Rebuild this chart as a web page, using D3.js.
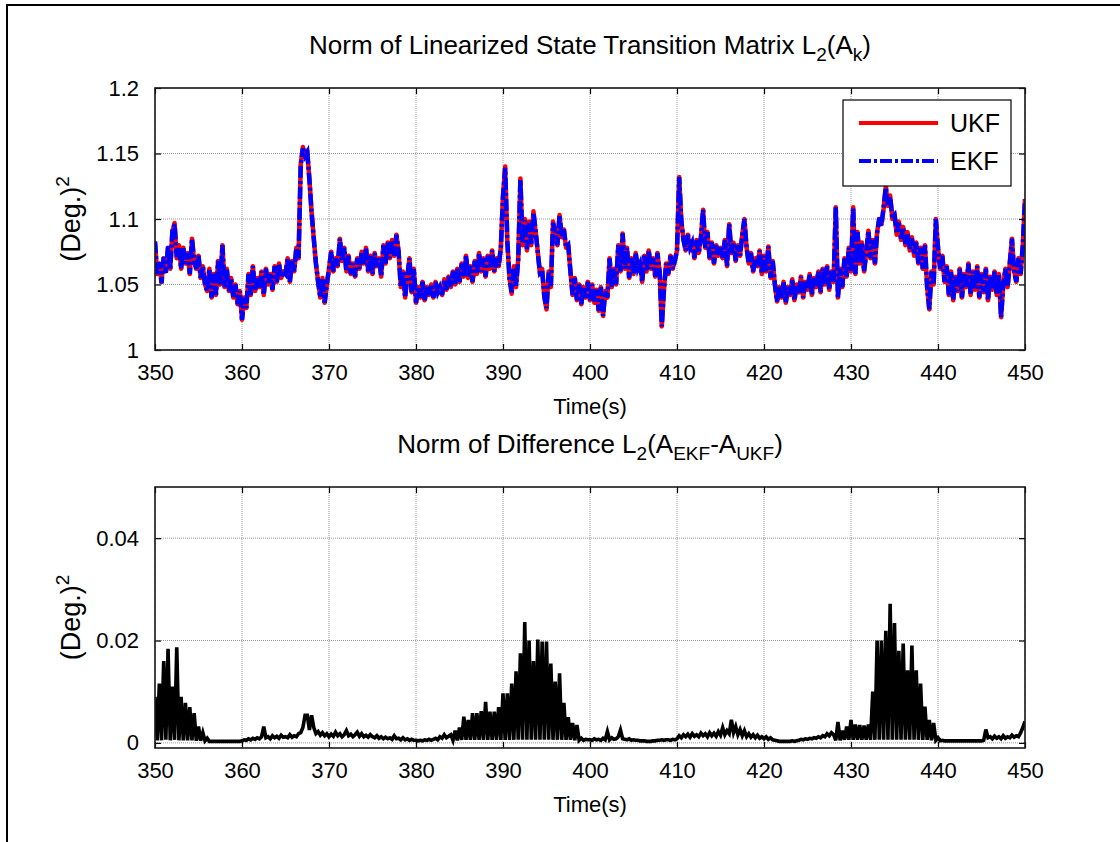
<!DOCTYPE html>
<html>
<head>
<meta charset="utf-8">
<script src="https://cdn.jsdelivr.net/npm/d3@7/dist/d3.min.js"></script>
<style>
body { margin: 0; background: #fff; }
text { font-family: "Liberation Sans", Arial, sans-serif; fill: #000; }
</style>
</head>
<body>
<div id="chart"></div>
<script>

// sampling of the recorded series
var t0 = 350, dt = 0.25;

var xTicks = [350, 360, 370, 380, 390, 400, 410, 420, 430, 440, 450];
var topTicks = [1, 1.05, 1.1, 1.15, 1.2];
var bottomTicks = [0, 0.02, 0.04];
var seriesNames = ["UKF", "EKF"];
var seriesColors = ["#ff0000", "#0000ff"];

// L2 norm of A_k, UKF (one row = one second)
var ukfNorm = [
 1.082, 1.058, 1.066, 1.052,
 1.070, 1.060, 1.078, 1.062,
 1.090, 1.097, 1.070, 1.080,
 1.062, 1.078, 1.066, 1.074,
 1.058, 1.085, 1.068, 1.062,
 1.072, 1.055, 1.064, 1.050,
 1.045, 1.062, 1.040, 1.058,
 1.042, 1.068, 1.050, 1.080,
 1.048, 1.062, 1.045, 1.055,
 1.040, 1.050, 1.035, 1.045,
 1.023, 1.040, 1.032, 1.058,
 1.042, 1.064, 1.045, 1.055,
 1.048, 1.060, 1.042, 1.062,
 1.050, 1.058, 1.046, 1.064,
 1.052, 1.066, 1.055, 1.060,
 1.058, 1.070, 1.052, 1.068,
 1.060, 1.078, 1.070, 1.142,
 1.155, 1.148, 1.152, 1.130,
 1.105, 1.085, 1.066, 1.052,
 1.040, 1.055, 1.036, 1.050,
 1.062, 1.075, 1.060, 1.070,
 1.064, 1.085, 1.068, 1.078,
 1.060, 1.072, 1.058, 1.066,
 1.056, 1.070, 1.062, 1.075,
 1.066, 1.078, 1.060, 1.072,
 1.058, 1.074, 1.064, 1.070,
 1.056, 1.080, 1.066, 1.082,
 1.070, 1.084, 1.072, 1.088,
 1.075, 1.048, 1.060, 1.040,
 1.056, 1.070, 1.044, 1.062,
 1.036, 1.048, 1.040, 1.052,
 1.038, 1.048, 1.042, 1.050,
 1.040, 1.052, 1.044, 1.048,
 1.042, 1.054, 1.046, 1.056,
 1.048, 1.060, 1.050, 1.062,
 1.052, 1.066, 1.056, 1.072,
 1.055, 1.064, 1.052, 1.068,
 1.058, 1.074, 1.060, 1.070,
 1.056, 1.072, 1.062, 1.076,
 1.060, 1.070, 1.064, 1.078,
 1.118, 1.140, 1.082, 1.055,
 1.043, 1.064, 1.048, 1.070,
 1.131, 1.080, 1.100, 1.076,
 1.098, 1.080, 1.106, 1.090,
 1.075, 1.058, 1.062, 1.040,
 1.031, 1.060, 1.048, 1.098,
 1.090, 1.080, 1.103, 1.086,
 1.092, 1.078, 1.080, 1.060,
 1.042, 1.055, 1.038, 1.050,
 1.035, 1.048, 1.040, 1.052,
 1.038, 1.050, 1.036, 1.046,
 1.030, 1.048, 1.026, 1.045,
 1.040, 1.070, 1.048, 1.062,
 1.050, 1.080, 1.060, 1.089,
 1.062, 1.078, 1.055, 1.070,
 1.058, 1.074, 1.062, 1.066,
 1.052, 1.072, 1.060, 1.076,
 1.062, 1.070, 1.056, 1.074,
 1.060, 1.018, 1.046, 1.066,
 1.058, 1.072, 1.062, 1.068,
 1.076, 1.132, 1.098, 1.084,
 1.076, 1.088, 1.078, 1.082,
 1.070, 1.084, 1.074, 1.086,
 1.107, 1.078, 1.090, 1.070,
 1.082, 1.066, 1.080, 1.072,
 1.078, 1.070, 1.084, 1.064,
 1.096, 1.074, 1.082, 1.068,
 1.080, 1.072, 1.088, 1.100,
 1.078, 1.066, 1.074, 1.060,
 1.070, 1.064, 1.076, 1.058,
 1.072, 1.060, 1.079, 1.055,
 1.068, 1.050, 1.037, 1.048,
 1.040, 1.052, 1.036, 1.048,
 1.042, 1.054, 1.038, 1.050,
 1.044, 1.056, 1.040, 1.052,
 1.046, 1.058, 1.042, 1.055,
 1.048, 1.060, 1.044, 1.062,
 1.050, 1.064, 1.046, 1.060,
 1.052, 1.109, 1.040, 1.062,
 1.048, 1.070, 1.056, 1.078,
 1.060, 1.109, 1.058, 1.090,
 1.066, 1.082, 1.060, 1.074,
 1.091, 1.070, 1.084, 1.066,
 1.090, 1.100, 1.096, 1.108,
 1.125, 1.110, 1.118, 1.100,
 1.104, 1.088, 1.098, 1.084,
 1.094, 1.080, 1.090, 1.076,
 1.086, 1.072, 1.082, 1.066,
 1.078, 1.062, 1.080, 1.048,
 1.031, 1.060, 1.050, 1.100,
 1.078, 1.062, 1.072, 1.052,
 1.064, 1.042, 1.060, 1.038,
 1.056, 1.045, 1.062, 1.040,
 1.058, 1.048, 1.066, 1.042,
 1.060, 1.046, 1.064, 1.040,
 1.058, 1.044, 1.062, 1.038,
 1.056, 1.046, 1.060, 1.042,
 1.058, 1.025, 1.050, 1.062,
 1.048, 1.066, 1.085, 1.060,
 1.052, 1.070, 1.058, 1.080,
 1.115
];

// L2 norm of A_k, EKF (almost the same as UKF)
var ekfNorm = [
 1.083, 1.057, 1.067, 1.051,
 1.071, 1.059, 1.079, 1.061,
 1.091, 1.096, 1.071, 1.079,
 1.062, 1.078, 1.066, 1.074,
 1.058, 1.085, 1.068, 1.062,
 1.072, 1.055, 1.064, 1.050,
 1.045, 1.062, 1.040, 1.058,
 1.042, 1.068, 1.050, 1.080,
 1.048, 1.062, 1.045, 1.055,
 1.040, 1.050, 1.035, 1.045,
 1.023, 1.040, 1.032, 1.058,
 1.042, 1.064, 1.045, 1.055,
 1.048, 1.060, 1.042, 1.062,
 1.050, 1.058, 1.046, 1.064,
 1.052, 1.066, 1.055, 1.060,
 1.058, 1.070, 1.052, 1.068,
 1.060, 1.078, 1.070, 1.141,
 1.154, 1.148, 1.151, 1.130,
 1.105, 1.085, 1.066, 1.052,
 1.040, 1.055, 1.036, 1.050,
 1.062, 1.075, 1.060, 1.070,
 1.064, 1.085, 1.068, 1.078,
 1.060, 1.072, 1.058, 1.066,
 1.056, 1.070, 1.062, 1.075,
 1.066, 1.078, 1.060, 1.072,
 1.058, 1.074, 1.064, 1.070,
 1.056, 1.080, 1.066, 1.082,
 1.070, 1.084, 1.072, 1.088,
 1.075, 1.048, 1.060, 1.040,
 1.056, 1.070, 1.044, 1.062,
 1.036, 1.048, 1.040, 1.052,
 1.038, 1.048, 1.042, 1.050,
 1.040, 1.052, 1.044, 1.048,
 1.042, 1.054, 1.046, 1.056,
 1.048, 1.060, 1.050, 1.062,
 1.052, 1.066, 1.056, 1.072,
 1.055, 1.064, 1.052, 1.068,
 1.058, 1.074, 1.060, 1.070,
 1.056, 1.072, 1.062, 1.076,
 1.060, 1.070, 1.064, 1.078,
 1.117, 1.139, 1.083, 1.054,
 1.044, 1.063, 1.049, 1.069,
 1.130, 1.081, 1.099, 1.077,
 1.097, 1.081, 1.105, 1.091,
 1.074, 1.059, 1.061, 1.041,
 1.032, 1.059, 1.049, 1.097,
 1.090, 1.080, 1.103, 1.086,
 1.092, 1.078, 1.080, 1.060,
 1.042, 1.055, 1.038, 1.050,
 1.035, 1.048, 1.040, 1.052,
 1.038, 1.050, 1.036, 1.046,
 1.030, 1.048, 1.026, 1.045,
 1.040, 1.070, 1.048, 1.062,
 1.050, 1.080, 1.060, 1.089,
 1.062, 1.078, 1.055, 1.070,
 1.058, 1.074, 1.062, 1.066,
 1.052, 1.072, 1.060, 1.076,
 1.062, 1.070, 1.056, 1.074,
 1.060, 1.018, 1.046, 1.066,
 1.058, 1.072, 1.062, 1.068,
 1.076, 1.132, 1.098, 1.084,
 1.076, 1.088, 1.078, 1.082,
 1.070, 1.084, 1.074, 1.086,
 1.107, 1.078, 1.090, 1.070,
 1.082, 1.066, 1.080, 1.072,
 1.078, 1.070, 1.084, 1.064,
 1.096, 1.074, 1.082, 1.068,
 1.080, 1.072, 1.088, 1.100,
 1.078, 1.066, 1.074, 1.060,
 1.070, 1.064, 1.076, 1.058,
 1.072, 1.060, 1.079, 1.055,
 1.068, 1.050, 1.037, 1.048,
 1.040, 1.052, 1.036, 1.048,
 1.042, 1.054, 1.038, 1.050,
 1.044, 1.056, 1.040, 1.052,
 1.046, 1.058, 1.042, 1.055,
 1.048, 1.060, 1.044, 1.062,
 1.050, 1.064, 1.046, 1.060,
 1.052, 1.109, 1.040, 1.062,
 1.048, 1.070, 1.056, 1.078,
 1.060, 1.109, 1.058, 1.090,
 1.066, 1.082, 1.060, 1.074,
 1.091, 1.070, 1.084, 1.066,
 1.089, 1.101, 1.095, 1.109,
 1.124, 1.111, 1.117, 1.101,
 1.103, 1.089, 1.097, 1.085,
 1.093, 1.081, 1.089, 1.077,
 1.085, 1.073, 1.082, 1.066,
 1.078, 1.062, 1.080, 1.048,
 1.031, 1.060, 1.050, 1.100,
 1.078, 1.062, 1.072, 1.052,
 1.064, 1.042, 1.060, 1.038,
 1.056, 1.045, 1.062, 1.040,
 1.058, 1.048, 1.066, 1.042,
 1.060, 1.046, 1.064, 1.040,
 1.058, 1.044, 1.062, 1.038,
 1.056, 1.046, 1.060, 1.042,
 1.058, 1.025, 1.050, 1.062,
 1.048, 1.066, 1.085, 1.060,
 1.052, 1.070, 1.058, 1.080,
 1.115
];

// L2 norm of A_EKF - A_UKF
var diffNorm = [
 0.0090, 0.0005, 0.0116, 0.0005,
 0.0160, 0.0006, 0.0184, 0.0005,
 0.0110, 0.0006, 0.0187, 0.0005,
 0.0090, 0.0005, 0.0078, 0.0005,
 0.0070, 0.0005, 0.0058, 0.0004,
 0.0032, 0.0004, 0.0020, 0.0004,
 0.0009, 0.0003, 0.0003, 0.0003,
 0.0003, 0.0003, 0.0003, 0.0003,
 0.0003, 0.0003, 0.0003, 0.0003,
 0.0003, 0.0003, 0.0003, 0.0003,
 0.0004, 0.0006, 0.0005, 0.0008,
 0.0006, 0.0009, 0.0007, 0.0010,
 0.0008, 0.0012, 0.0032, 0.0010,
 0.0012, 0.0008, 0.0014, 0.0010,
 0.0013, 0.0009, 0.0015, 0.0011,
 0.0012, 0.0010, 0.0016, 0.0011,
 0.0014, 0.0012, 0.0018, 0.0020,
 0.0030, 0.0054, 0.0054, 0.0025,
 0.0054, 0.0030, 0.0018, 0.0022,
 0.0015, 0.0020, 0.0014, 0.0018,
 0.0012, 0.0017, 0.0013, 0.0021,
 0.0014, 0.0018, 0.0012, 0.0016,
 0.0024, 0.0014, 0.0017, 0.0012,
 0.0016, 0.0021, 0.0013, 0.0018,
 0.0012, 0.0015, 0.0011, 0.0016,
 0.0012, 0.0010, 0.0014, 0.0009,
 0.0012, 0.0008, 0.0011, 0.0008,
 0.0010, 0.0007, 0.0014, 0.0008,
 0.0009, 0.0006, 0.0010, 0.0006,
 0.0008, 0.0005, 0.0007, 0.0005,
 0.0005, 0.0004, 0.0005, 0.0004,
 0.0006, 0.0005, 0.0007, 0.0005,
 0.0007, 0.0009, 0.0006, 0.0012,
 0.0009, 0.0016, 0.0010, 0.0013,
 0.0016, 0.0005, 0.0024, 0.0005,
 0.0030, 0.0006, 0.0051, 0.0006,
 0.0045, 0.0006, 0.0058, 0.0006,
 0.0058, 0.0006, 0.0062, 0.0006,
 0.0080, 0.0006, 0.0061, 0.0006,
 0.0061, 0.0006, 0.0070, 0.0006,
 0.0097, 0.0006, 0.0097, 0.0006,
 0.0116, 0.0006, 0.0140, 0.0006,
 0.0175, 0.0006, 0.0236, 0.0006,
 0.0200, 0.0006, 0.0160, 0.0006,
 0.0202, 0.0006, 0.0198, 0.0006,
 0.0198, 0.0006, 0.0155, 0.0006,
 0.0120, 0.0006, 0.0136, 0.0006,
 0.0078, 0.0006, 0.0050, 0.0006,
 0.0039, 0.0005, 0.0035, 0.0005,
 0.0009, 0.0005, 0.0007, 0.0006,
 0.0006, 0.0005, 0.0008, 0.0006,
 0.0007, 0.0005, 0.0009, 0.0006,
 0.0022, 0.0006, 0.0010, 0.0007,
 0.0008, 0.0012, 0.0025, 0.0008,
 0.0007, 0.0006, 0.0008, 0.0005,
 0.0006, 0.0005, 0.0005, 0.0004,
 0.0004, 0.0004, 0.0003, 0.0003,
 0.0003, 0.0004, 0.0004, 0.0005,
 0.0005, 0.0006, 0.0005, 0.0006,
 0.0006, 0.0005, 0.0007, 0.0006,
 0.0008, 0.0014, 0.0010, 0.0016,
 0.0012, 0.0017, 0.0011, 0.0018,
 0.0013, 0.0016, 0.0012, 0.0019,
 0.0014, 0.0018, 0.0012, 0.0020,
 0.0014, 0.0019, 0.0013, 0.0022,
 0.0015, 0.0030, 0.0016, 0.0024,
 0.0018, 0.0045, 0.0020, 0.0032,
 0.0016, 0.0026, 0.0014, 0.0024,
 0.0012, 0.0018, 0.0011, 0.0016,
 0.0010, 0.0015, 0.0009, 0.0012,
 0.0008, 0.0012, 0.0007, 0.0010,
 0.0006, 0.0005, 0.0004, 0.0003,
 0.0003, 0.0003, 0.0003, 0.0003,
 0.0003, 0.0004, 0.0003, 0.0004,
 0.0005, 0.0007, 0.0006, 0.0008,
 0.0007, 0.0009, 0.0008, 0.0010,
 0.0009, 0.0012, 0.0010, 0.0014,
 0.0012, 0.0018, 0.0014, 0.0020,
 0.0016, 0.0005, 0.0041, 0.0005,
 0.0024, 0.0006, 0.0032, 0.0006,
 0.0045, 0.0006, 0.0036, 0.0006,
 0.0035, 0.0006, 0.0034, 0.0006,
 0.0036, 0.0006, 0.0100, 0.0006,
 0.0200, 0.0006, 0.0200, 0.0006,
 0.0219, 0.0006, 0.0272, 0.0006,
 0.0234, 0.0006, 0.0180, 0.0006,
 0.0194, 0.0006, 0.0142, 0.0006,
 0.0190, 0.0006, 0.0142, 0.0006,
 0.0116, 0.0006, 0.0071, 0.0006,
 0.0045, 0.0005, 0.0039, 0.0005,
 0.0010, 0.0004, 0.0005, 0.0004,
 0.0004, 0.0004, 0.0004, 0.0004,
 0.0004, 0.0004, 0.0004, 0.0004,
 0.0004, 0.0004, 0.0004, 0.0004,
 0.0004, 0.0004, 0.0004, 0.0004,
 0.0004, 0.0005, 0.0026, 0.0010,
 0.0012, 0.0008, 0.0013, 0.0009,
 0.0012, 0.0008, 0.0014, 0.0009,
 0.0012, 0.0010, 0.0015, 0.0011,
 0.0014, 0.0012, 0.0020, 0.0030,
 0.0042
];


var width = 1120, height = 842;
var left = 155, right = 1025;

var svg = d3.select("#chart")
	.append("svg")
	.attr("width", width)
	.attr("height", height);

// figure frame (cropped, only top and left edges show)
svg.append("path")
	.attr("d", "M7,842 V5 H1120")
	.attr("fill", "none")
	.attr("stroke", "#000")
	.attr("stroke-width", 2);

var x = d3.scaleLinear().domain([350, 450]).range([left, right]);

function tx(d, i) { return x(t0 + i * dt); }

function panel(top, bottom, yDomain, yTicks, id) {
	var y = d3.scaleLinear().domain(yDomain).range([bottom, top]);
	var g = svg.append("g");
	var h = bottom - top, w = right - left;

	g.append("clipPath").attr("id", id)
		.append("rect").attr("x", left).attr("y", top).attr("width", w).attr("height", h);

	// grid
	g.append("g")
		.selectAll("line.vx")
		.data(xTicks).enter().append("line")
		.attr("x1", function(d) { return x(d); })
		.attr("x2", function(d) { return x(d); })
		.attr("y1", top).attr("y2", bottom)
		.attr("stroke", "#999").attr("stroke-width", 1).attr("stroke-dasharray", "1,1");
	g.append("g")
		.selectAll("line.hy")
		.data(yTicks).enter().append("line")
		.attr("y1", function(d) { return y(d); })
		.attr("y2", function(d) { return y(d); })
		.attr("x1", left).attr("x2", right)
		.attr("stroke", "#999").attr("stroke-width", 1).attr("stroke-dasharray", "1,1");

	return { g: g, y: y, top: top, bottom: bottom };
}

function axes(p) {
	var g = p.g, y = p.y;
	var fmt = d3.format("~g");

	g.append("g").attr("transform", "translate(0," + p.bottom + ")")
		.call(d3.axisBottom(x).tickValues(xTicks).tickSize(-6).tickPadding(14).tickFormat(fmt));
	g.append("g").attr("transform", "translate(0," + p.top + ")")
		.call(d3.axisTop(x).tickValues(xTicks).tickSize(-6).tickFormat(""));
	g.append("g").attr("transform", "translate(" + left + ",0)")
		.call(d3.axisLeft(y).tickValues(p.ticks).tickSize(-6).tickPadding(16).tickFormat(fmt));
	g.append("g").attr("transform", "translate(" + right + ",0)")
		.call(d3.axisRight(y).tickValues(p.ticks).tickSize(-6).tickFormat(""));

	g.selectAll(".domain").remove();
	g.selectAll(".tick line").attr("stroke", "#000").attr("stroke-width", 1.2);
	g.selectAll(".tick text")
		.style("font-family", "'Liberation Sans', Arial, sans-serif")
		.style("font-size", "22px")
		.attr("fill", "#000");

	g.append("rect")
		.attr("x", left).attr("y", p.top)
		.attr("width", right - left).attr("height", p.bottom - p.top)
		.attr("fill", "none").attr("stroke", "#1a1a1a").attr("stroke-width", 1.6);

	g.append("text")
		.attr("x", (left + right) / 2).attr("y", p.bottom + 64)
		.attr("text-anchor", "middle")
		.style("font-size", "22px")
		.text("Time(s)");

	var yl = g.append("text")
		.attr("transform", "translate(80," + ((p.top + p.bottom) / 2) + ") rotate(-90)")
		.attr("text-anchor", "middle")
		.style("font-size", "27px");
	yl.append("tspan").text("(Deg.)");
	yl.append("tspan").attr("dy", -11).style("font-size", "19px").text("2");
}

// ---- top panel: norm of A_k ----
var p1 = panel(88, 350, [1, 1.2], topTicks, "clip1");
p1.ticks = topTicks;

var line1 = d3.line().x(tx).y(function(d) { return p1.y(d); });

p1.g.append("path")
	.datum(ukfNorm)
	.attr("d", line1)
	.attr("clip-path", "url(#clip1)")
	.attr("fill", "none")
	.attr("stroke", seriesColors[0])
	.attr("stroke-width", 4.5)
	.attr("stroke-linejoin", "round");

p1.g.append("path")
	.datum(ekfNorm)
	.attr("d", line1)
	.attr("clip-path", "url(#clip1)")
	.attr("fill", "none")
	.attr("stroke", seriesColors[1])
	.attr("stroke-width", 4.5)
	.attr("stroke-dasharray", "12,3,3,3");

axes(p1);

var t1 = svg.append("text")
	.attr("x", (left + right) / 2).attr("y", 54)
	.attr("text-anchor", "middle")
	.style("font-size", "26px");
t1.append("tspan").text("Norm of Linearized State Transition Matrix L");
t1.append("tspan").attr("dy", 7).style("font-size", "19px").text("2");
t1.append("tspan").attr("dy", -7).text("(A");
t1.append("tspan").attr("dy", 7).style("font-size", "19px").text("k");
t1.append("tspan").attr("dy", -7).text(")");

// legend
var leg = svg.append("g").attr("transform", "translate(843,100)");
leg.append("rect")
	.attr("width", 168).attr("height", 86)
	.attr("fill", "#fff").attr("stroke", "#000").attr("stroke-width", 1.2);
leg.selectAll("line.l")
	.data(seriesNames).enter().append("line")
	.attr("x1", 16).attr("x2", 95)
	.attr("y1", function(d, i) { return 23 + i * 38; })
	.attr("y2", function(d, i) { return 23 + i * 38; })
	.attr("stroke", function(d, i) { return seriesColors[i]; })
	.attr("stroke-width", 4)
	.attr("stroke-dasharray", function(d, i) { return i == 1 ? "12,3,3,3" : null; });
leg.selectAll("text.l")
	.data(seriesNames).enter().append("text")
	.attr("x", 107)
	.attr("y", function(d, i) { return 23 + i * 38 + 9; })
	.style("font-size", "25px")
	.text(function(d) { return d; });

// ---- bottom panel: norm of difference ----
var p2 = panel(487, 748, [-0.001, 0.05], bottomTicks, "clip2");
p2.ticks = bottomTicks;

var line2 = d3.line().x(tx).y(function(d) { return p2.y(d); });

p2.g.append("path")
	.datum(diffNorm)
	.attr("d", line2)
	.attr("clip-path", "url(#clip2)")
	.attr("fill", "none")
	.attr("stroke", "#000")
	.attr("stroke-width", 3.6);

axes(p2);

var t2 = svg.append("text")
	.attr("x", (left + right) / 2).attr("y", 453)
	.attr("text-anchor", "middle")
	.style("font-size", "26px");
t2.append("tspan").text("Norm of Difference L");
t2.append("tspan").attr("dy", 7).style("font-size", "19px").text("2");
t2.append("tspan").attr("dy", -7).text("(A");
t2.append("tspan").attr("dy", 7).style("font-size", "19px").text("EKF");
t2.append("tspan").attr("dy", -7).text("-A");
t2.append("tspan").attr("dy", 7).style("font-size", "19px").text("UKF");
t2.append("tspan").attr("dy", -7).text(")");

</script>
</body>
</html>
